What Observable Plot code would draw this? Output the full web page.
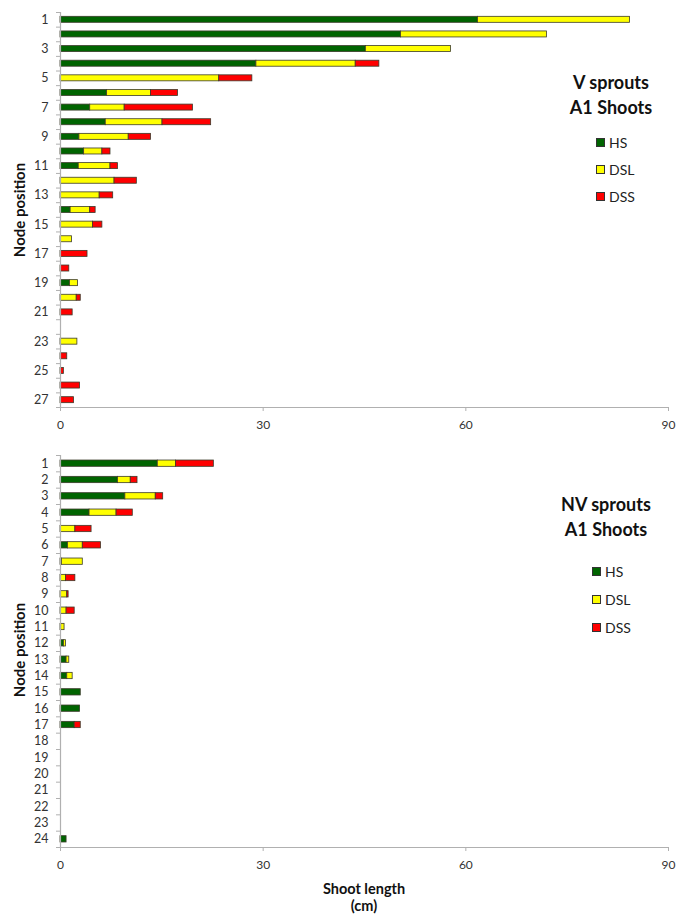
<!DOCTYPE html>
<html><head><meta charset="utf-8">
<script src="https://cdn.jsdelivr.net/npm/d3@7"></script>
<script src="https://cdn.jsdelivr.net/npm/@observablehq/plot@0.6"></script>
<style>
body{margin:0;background:#fff;font-family:Lato,"Open Sans",sans-serif;}
#wrap{position:relative;width:676px;height:914px;overflow:hidden;background:#fff;}
.panel{position:absolute;left:0;}
.title{position:absolute;font-weight:bold;font-size:18px;text-align:center;line-height:25px;color:#111;transform:translateX(-50%);white-space:nowrap;}
.leg{position:absolute;font-size:14px;color:#222;line-height:16px;white-space:nowrap;transform:translateY(-50%);}
.sw{display:inline-block;width:7px;height:7px;border:1px solid #333;margin-right:4px;vertical-align:1px;}
.rot{position:absolute;font-weight:bold;font-size:15px;color:#111;white-space:nowrap;transform:translate(-50%,-50%) rotate(-90deg);}
.xt{position:absolute;font-weight:bold;font-size:14.5px;color:#111;white-space:nowrap;transform:translateX(-50%);text-align:center;line-height:17px;}
</style></head>
<body><div id="wrap"></div>
<script>
const seriesNames = ["HS", "DSL", "DSS"];
const seriesColors = ["#006400", "#ffff00", "#ff0000"];

// V sprouts, A1 shoots (top chart)
const vNodes = [1,2,3,4,5,6,7,8,9,10,11,12,13,14,15,16,17,18,19,20,21,22,23,24,25,26,27];
const vLabels = [1,3,5,7,9,11,13,15,17,19,21,23,25,27];
const vHS  = [61.8,50.4,45.2,29.0,0,6.9,4.4,6.7,2.8,3.5,2.7,0,0,1.5,0,0,0,0,1.4,0,0,0,0,0,0,0,0];
const vDSL = [22.5,21.6,12.6,14.7,23.5,6.5,5.1,8.4,7.3,2.7,4.7,8.0,5.8,2.9,4.8,1.7,0,0,1.2,2.4,0,0,2.5,0,0,0,0];
const vDSS = [0,0,0,3.5,4.9,4.0,10.1,7.2,3.3,1.2,1.1,3.3,2.0,0.8,1.4,0,4.0,1.3,0,0.6,1.8,0,0,1.0,0.5,2.9,2.0];

// NV sprouts, A1 shoots (bottom chart)
const nvNodes = [1,2,3,4,5,6,7,8,9,10,11,12,13,14,15,16,17,18,19,20,21,22,23,24];
const nvLabels = nvNodes;
const nvHS  = [14.4,8.5,9.6,4.3,0,1.1,0.2,0,0,0,0.1,0.5,0.9,1.0,3.0,2.9,2.1,0,0,0,0,0,0,0.9];
const nvDSL = [2.7,1.9,4.5,4.0,2.2,2.2,3.1,0.8,1.0,0.9,0.5,0.3,0.4,0.8,0,0,0,0,0,0,0,0,0,0];
const nvDSS = [5.6,1.0,1.1,2.4,2.4,2.7,0,1.4,0.2,1.2,0,0,0,0,0,0,0.9,0,0,0,0,0,0,0];

const xTicks = [0, 30, 60, 90];

function stackRows(nodes, cols) {
  const rows = [];
  nodes.forEach((n, i) => {
    let c = 0;
    cols.forEach((arr, k) => {
      const v = arr[i];
      if (v > 0) rows.push({node: n, series: seriesNames[k], x1: c, x2: c + v});
      c += v;
    });
  });
  return rows;
}

function makeChart(nodes, labels, cols, opts) {
  const rows = stackRows(nodes, cols);
  const last = nodes[nodes.length - 1];
  const bounds = [0.5, ...nodes.map(n => n + 0.5)];
  const h = opts.half;
  return Plot.plot({
    width: 676, height: opts.height,
    marginLeft: 60, marginRight: 8, marginTop: opts.mt, marginBottom: opts.mb,
    style: {fontFamily: "Lato, 'Open Sans', sans-serif", fontSize: "12px", color: "#333", background: "#fff"},
    x: {domain: [0, 90]},
    y: {domain: [last + 0.5, 0.5]},
    color: {domain: seriesNames, range: seriesColors},
    marks: [
      Plot.rect(rows, {x1: "x1", x2: "x2", y1: d => d.node - h, y2: d => d.node + h,
        fill: "series", stroke: "#3b3b2b", strokeWidth: 0.8}),
      Plot.ruleX([0], {stroke: "#b0b0b0", strokeWidth: 1.2}),
      Plot.ruleY([last + 0.5], {stroke: "#b0b0b0", strokeWidth: 1.2}),
      Plot.axisX({ticks: xTicks, tickSize: 4, tickPadding: 9, stroke: "#b0b0b0", fill: "#333", fontSize: 12, label: null}),
      Plot.axisY({ticks: bounds, tickSize: 4, tickFormat: () => "", stroke: "#b0b0b0", label: null}),
      Plot.axisY({ticks: labels, tickSize: 0, tickPadding: 12, fill: "#333", fontSize: 12.5, label: null})
    ]
  });
}

const wrap = document.getElementById("wrap");

const top1 = makeChart(vNodes, vLabels, [vHS, vDSL, vDSS], {height: 440, mt: 12, mb: 33, half: 0.205});
top1.classList.add("panel"); top1.style.top = "0px";
wrap.appendChild(top1);

const bot = makeChart(nvNodes, nvLabels, [nvHS, nvDSL, nvDSS], {height: 474, mt: 15, mb: 67, half: 0.193});
bot.classList.add("panel"); bot.style.top = "440px";
wrap.appendChild(bot);

function addDiv(cls, html, x, y) {
  const d = document.createElement("div");
  d.className = cls; d.innerHTML = html;
  d.style.left = x + "px"; d.style.top = y + "px";
  wrap.appendChild(d);
  return d;
}
function addLegend(x, ys) {
  seriesNames.forEach((s, i) => {
    addDiv("leg", `<span class="sw" style="background:${seriesColors[i]}"></span>${s}`, x, ys[i]);
  });
}

addDiv("title", "V sprouts<br>A1 Shoots", 611, 70);
addLegend(596, [143, 170, 197]);
addDiv("title", "NV sprouts<br>A1 Shoots", 606, 492);
addLegend(592, [572, 600, 628]);

addDiv("rot", "Node position", 19, 210);
addDiv("rot", "Node position", 19, 650);
addDiv("xt", "Shoot length<br>(cm)", 364, 880);
</script>
</body></html>
